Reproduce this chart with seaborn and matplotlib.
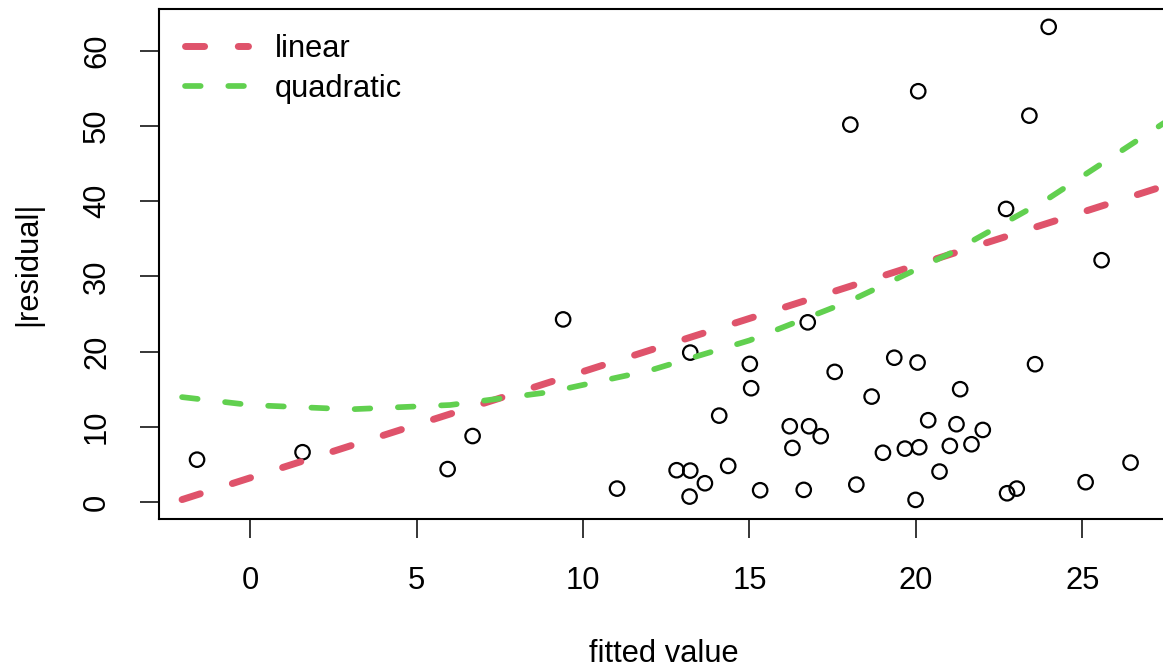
import numpy as np
import pandas as pd
import matplotlib
matplotlib.use("Agg")
import matplotlib.pyplot as plt
import seaborn as sns

# Fitted values and absolute residuals
fitted = [-1.60, 1.57, 5.93, 6.68, 9.40, 11.02, 13.22, 15.01, 15.05, 14.09,
          17.56, 16.75, 18.67, 19.35, 16.21, 16.79, 17.14, 16.29, 19.01, 12.81,
          13.22, 14.36, 13.66, 13.20, 15.32, 16.63, 18.21, 20.05, 23.58, 21.33,
          20.37, 21.22, 22.01, 19.67, 20.10, 21.02, 21.67, 20.71, 19.99, 22.74,
          23.03, 25.10, 26.45, 23.99, 20.07, 18.03, 23.41, 22.71, 25.58]
abs_resid = [5.66, 6.65, 4.41, 8.80, 24.29, 1.82, 19.88, 18.38, 15.15, 11.51,
             17.32, 23.90, 14.04, 19.20, 10.10, 10.10, 8.78, 7.22, 6.58, 4.26,
             4.21, 4.83, 2.53, 0.76, 1.60, 1.65, 2.35, 18.56, 18.34, 15.02,
             10.90, 10.37, 9.61, 7.13, 7.31, 7.49, 7.71, 4.08, 0.32, 1.20,
             1.82, 2.67, 5.27, 63.14, 54.59, 50.16, 51.35, 38.96, 32.15]

# Trend curves
linear_x = [-2.05, 27.6]
linear_y = [0.36, 42.2]
quad_x = [-2.05, 0.0, 3.0, 6.0, 9.0, 12.0, 15.0, 18.0, 21.0, 24.0, 27.6]
quad_y = [13.97, 12.92, 12.35, 12.92, 14.64, 17.5, 21.5, 26.7, 33.0, 40.4, 50.8]

x_ticks = [0, 5, 10, 15, 20, 25]
y_ticks = [0, 10, 20, 30, 40, 50, 60]

sns.set_style("ticks")
plt.rcParams["font.family"] = ["Liberation Sans", "DejaVu Sans"]
plt.rcParams["text.color"] = "black"
plt.rcParams["axes.labelcolor"] = "black"

W, H = 1163, 668
fig = plt.figure(figsize=(W / 100, H / 100), dpi=100)
left, right, top, bottom = 159.3, 1169.0, 8.5, 519.0
ax = fig.add_axes([left / W, 1 - bottom / H, (right - left) / W, (bottom - top) / H])

pts = pd.DataFrame({"fitted": fitted, "absres": abs_resid})
sns.scatterplot(data=pts, x="fitted", y="absres", ax=ax, marker="o", s=108,
                facecolor="none", edgecolor="black", linewidth=1.6, zorder=2)

red, green = "#DF536B", "#61D04F"
sns.lineplot(x=linear_x, y=linear_y, ax=ax, color=red, linewidth=5.0,
             label="linear", zorder=3, sort=False)
sns.lineplot(x=quad_x, y=quad_y, ax=ax, color=green, linewidth=4.1,
             label="quadratic", zorder=4, sort=False)
for ln in ax.get_lines():
    ln.set_dashes((2.75, 4.85))
    ln.set_dash_capstyle("round")

ax.set_xlim(-2.734, (right - 250.3) / 33.28)
ax.set_ylim(-2.218, 65.58)
ax.set_xticks(x_ticks)
ax.set_yticks(y_ticks)
ax.set_xticklabels([str(v) for v in x_ticks])
ax.set_yticklabels([str(v) for v in y_ticks], rotation=90, va="center")

fs = 22.2
ax.tick_params(axis="both", labelsize=fs, length=14, width=1.1, color="black",
               labelcolor="black")
ax.tick_params(axis="x", pad=20)
ax.tick_params(axis="y", pad=20)
for s in ax.spines.values():
    s.set_linewidth(1.5)
    s.set_color("black")

ax.set_xlabel("fitted value", fontsize=fs, color="black")
ax.set_ylabel("|residual|", fontsize=fs, color="black")
ax.xaxis.label.set_va("center")
ax.yaxis.label.set_va("center")
ax.xaxis.set_label_coords(0.5, (bottom - 654) / (bottom - top))
ax.yaxis.set_label_coords((28 - left) / (right - left), 0.5)

leg = ax.legend(loc="upper left", frameon=False, fontsize=fs,
                bbox_to_anchor=(25.7 / (right - left), 1 - 25.0 / (bottom - top)),
                borderaxespad=0, borderpad=0, handlelength=2.05,
                handletextpad=0.86, labelspacing=0.33)
for t in leg.get_texts():
    t.set_color("black")

fig.savefig("out.png", dpi=100)
